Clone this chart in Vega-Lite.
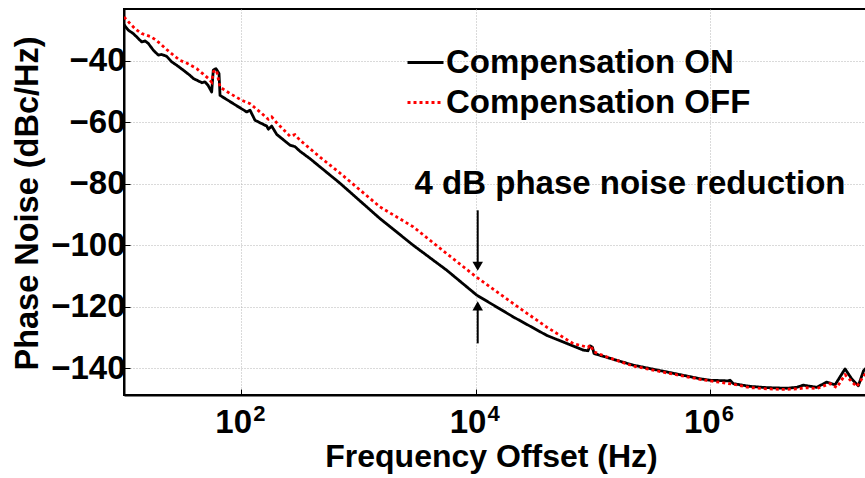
{
  "$schema": "https://vega.github.io/schema/vega-lite/v6.json",
  "width": 742,
  "height": 386,
  "autosize": {"type": "none"},
  "padding": {"left": 124, "top": 9, "right": 0, "bottom": 83},
  "background": "white",
  "config": {
    "view": {"stroke": "black", "strokeWidth": 2},
    "font": "Liberation Sans"
  },
  "datasets": {
    "curves": [
      {"f": 10, "pn": -28.2, "series": "Compensation ON"},
      {"f": 10.88, "pn": -30.0, "series": "Compensation ON"},
      {"f": 12.0, "pn": -31.1, "series": "Compensation ON"},
      {"f": 13.24, "pn": -32.7, "series": "Compensation ON"},
      {"f": 14.16, "pn": -33.8, "series": "Compensation ON"},
      {"f": 15.11, "pn": -33.5, "series": "Compensation ON"},
      {"f": 16.12, "pn": -34.3, "series": "Compensation ON"},
      {"f": 17.79, "pn": -36.5, "series": "Compensation ON"},
      {"f": 19.62, "pn": -38.1, "series": "Compensation ON"},
      {"f": 20.98, "pn": -37.9, "series": "Compensation ON"},
      {"f": 23.14, "pn": -38.5, "series": "Compensation ON"},
      {"f": 25.53, "pn": -40.3, "series": "Compensation ON"},
      {"f": 28.18, "pn": -41.4, "series": "Compensation ON"},
      {"f": 32.07, "pn": -43.0, "series": "Compensation ON"},
      {"f": 36.59, "pn": -44.7, "series": "Compensation ON"},
      {"f": 39.04, "pn": -45.7, "series": "Compensation ON"},
      {"f": 46.3, "pn": -47.1, "series": "Compensation ON"},
      {"f": 49.1, "pn": -46.8, "series": "Compensation ON"},
      {"f": 52.1, "pn": -47.9, "series": "Compensation ON"},
      {"f": 56.0, "pn": -50.1, "series": "Compensation ON"},
      {"f": 57.8, "pn": -43.0, "series": "Compensation ON"},
      {"f": 61.0, "pn": -42.5, "series": "Compensation ON"},
      {"f": 64.7, "pn": -44.1, "series": "Compensation ON"},
      {"f": 66.0, "pn": -51.2, "series": "Compensation ON"},
      {"f": 85.7, "pn": -53.9, "series": "Compensation ON"},
      {"f": 111.5, "pn": -56.6, "series": "Compensation ON"},
      {"f": 119.0, "pn": -56.0, "series": "Compensation ON"},
      {"f": 131.2, "pn": -59.3, "series": "Compensation ON"},
      {"f": 165.2, "pn": -61.2, "series": "Compensation ON"},
      {"f": 170.5, "pn": -62.2, "series": "Compensation ON"},
      {"f": 182.2, "pn": -61.2, "series": "Compensation ON"},
      {"f": 201.0, "pn": -63.9, "series": "Compensation ON"},
      {"f": 261.1, "pn": -67.4, "series": "Compensation ON"},
      {"f": 288.0, "pn": -67.9, "series": "Compensation ON"},
      {"f": 317.8, "pn": -69.4, "series": "Compensation ON"},
      {"f": 386.7, "pn": -71.8, "series": "Compensation ON"},
      {"f": 697.5, "pn": -79.8, "series": "Compensation ON"},
      {"f": 1530, "pn": -91.3, "series": "Compensation ON"},
      {"f": 2945, "pn": -100.0, "series": "Compensation ON"},
      {"f": 5677, "pn": -108.1, "series": "Compensation ON"},
      {"f": 10240, "pn": -116.2, "series": "Compensation ON"},
      {"f": 21010, "pn": -123.3, "series": "Compensation ON"},
      {"f": 40520, "pn": -129.3, "series": "Compensation ON"},
      {"f": 83180, "pn": -134.1, "series": "Compensation ON"},
      {"f": 91220, "pn": -134.3, "series": "Compensation ON"},
      {"f": 94890, "pn": -132.7, "series": "Compensation ON"},
      {"f": 99660, "pn": -133.2, "series": "Compensation ON"},
      {"f": 102600, "pn": -135.2, "series": "Compensation ON"},
      {"f": 115500, "pn": -135.8, "series": "Compensation ON"},
      {"f": 222200, "pn": -139.0, "series": "Compensation ON"},
      {"f": 428300, "pn": -141.2, "series": "Compensation ON"},
      {"f": 824100, "pn": -143.4, "series": "Compensation ON"},
      {"f": 1003000, "pn": -143.9, "series": "Compensation ON"},
      {"f": 1438000, "pn": -144.1, "series": "Compensation ON"},
      {"f": 1486000, "pn": -143.9, "series": "Compensation ON"},
      {"f": 1586000, "pn": -145.0, "series": "Compensation ON"},
      {"f": 2201000, "pn": -145.9, "series": "Compensation ON"},
      {"f": 3058000, "pn": -146.3, "series": "Compensation ON"},
      {"f": 4529000, "pn": -146.5, "series": "Compensation ON"},
      {"f": 5511000, "pn": -146.2, "series": "Compensation ON"},
      {"f": 6277000, "pn": -145.5, "series": "Compensation ON"},
      {"f": 8166000, "pn": -146.2, "series": "Compensation ON"},
      {"f": 9940000, "pn": -144.5, "series": "Compensation ON"},
      {"f": 11700000, "pn": -145.4, "series": "Compensation ON"},
      {"f": 14240000, "pn": -140.2, "series": "Compensation ON"},
      {"f": 16340000, "pn": -143.6, "series": "Compensation ON"},
      {"f": 18500000, "pn": -145.7, "series": "Compensation ON"},
      {"f": 20490000, "pn": -140.8, "series": "Compensation ON"},
      {"f": 21500000, "pn": -140.0, "series": "Compensation ON"},
      {"f": 10, "pn": -25.7, "series": "Compensation OFF"},
      {"f": 11.25, "pn": -27.8, "series": "Compensation OFF"},
      {"f": 12.41, "pn": -29.5, "series": "Compensation OFF"},
      {"f": 14.16, "pn": -31.1, "series": "Compensation OFF"},
      {"f": 16.67, "pn": -32.0, "series": "Compensation OFF"},
      {"f": 18.39, "pn": -33.0, "series": "Compensation OFF"},
      {"f": 20.29, "pn": -34.3, "series": "Compensation OFF"},
      {"f": 23.14, "pn": -36.3, "series": "Compensation OFF"},
      {"f": 26.35, "pn": -38.1, "series": "Compensation OFF"},
      {"f": 30.06, "pn": -39.8, "series": "Compensation OFF"},
      {"f": 34.29, "pn": -40.7, "series": "Compensation OFF"},
      {"f": 41.74, "pn": -42.5, "series": "Compensation OFF"},
      {"f": 47.53, "pn": -44.3, "series": "Compensation OFF"},
      {"f": 52.1, "pn": -45.6, "series": "Compensation OFF"},
      {"f": 56.0, "pn": -46.9, "series": "Compensation OFF"},
      {"f": 58.1, "pn": -43.4, "series": "Compensation OFF"},
      {"f": 61.6, "pn": -43.0, "series": "Compensation OFF"},
      {"f": 66.0, "pn": -48.5, "series": "Compensation OFF"},
      {"f": 80.3, "pn": -50.6, "series": "Compensation OFF"},
      {"f": 101.0, "pn": -52.8, "series": "Compensation OFF"},
      {"f": 119.0, "pn": -53.9, "series": "Compensation OFF"},
      {"f": 144.8, "pn": -56.6, "series": "Compensation OFF"},
      {"f": 170.5, "pn": -59.0, "series": "Compensation OFF"},
      {"f": 182.2, "pn": -58.2, "series": "Compensation OFF"},
      {"f": 201.0, "pn": -60.1, "series": "Compensation OFF"},
      {"f": 261.1, "pn": -64.5, "series": "Compensation OFF"},
      {"f": 288.0, "pn": -64.0, "series": "Compensation OFF"},
      {"f": 317.8, "pn": -65.8, "series": "Compensation OFF"},
      {"f": 470.8, "pn": -71.3, "series": "Compensation OFF"},
      {"f": 697.5, "pn": -76.5, "series": "Compensation OFF"},
      {"f": 1530, "pn": -87.5, "series": "Compensation OFF"},
      {"f": 2945, "pn": -94.0, "series": "Compensation OFF"},
      {"f": 5677, "pn": -102.7, "series": "Compensation OFF"},
      {"f": 10240, "pn": -110.4, "series": "Compensation OFF"},
      {"f": 21010, "pn": -119.0, "series": "Compensation OFF"},
      {"f": 40520, "pn": -126.6, "series": "Compensation OFF"},
      {"f": 68330, "pn": -132.0, "series": "Compensation OFF"},
      {"f": 77960, "pn": -132.5, "series": "Compensation OFF"},
      {"f": 91220, "pn": -133.2, "series": "Compensation OFF"},
      {"f": 95820, "pn": -132.4, "series": "Compensation OFF"},
      {"f": 101600, "pn": -134.6, "series": "Compensation OFF"},
      {"f": 131700, "pn": -136.3, "series": "Compensation OFF"},
      {"f": 222200, "pn": -139.3, "series": "Compensation OFF"},
      {"f": 428300, "pn": -141.5, "series": "Compensation OFF"},
      {"f": 824100, "pn": -143.6, "series": "Compensation OFF"},
      {"f": 1003000, "pn": -144.1, "series": "Compensation OFF"},
      {"f": 1586000, "pn": -145.2, "series": "Compensation OFF"},
      {"f": 2201000, "pn": -146.3, "series": "Compensation OFF"},
      {"f": 3058000, "pn": -146.7, "series": "Compensation OFF"},
      {"f": 4236000, "pn": -146.9, "series": "Compensation OFF"},
      {"f": 5511000, "pn": -146.7, "series": "Compensation OFF"},
      {"f": 6708000, "pn": -146.3, "series": "Compensation OFF"},
      {"f": 8166000, "pn": -146.6, "series": "Compensation OFF"},
      {"f": 10610000, "pn": -145.0, "series": "Compensation OFF"},
      {"f": 12100000, "pn": -146.3, "series": "Compensation OFF"},
      {"f": 14240000, "pn": -142.1, "series": "Compensation OFF"},
      {"f": 17920000, "pn": -146.0, "series": "Compensation OFF"},
      {"f": 20690000, "pn": -142.3, "series": "Compensation OFF"},
      {"f": 21500000, "pn": -141.8, "series": "Compensation OFF"}
    ],
    "arrows": [
      {"f": 10440, "pn": -88.6, "pn2": -106.5, "shape": "triangle-down", "head": -106.8},
      {"f": 10440, "pn": -131.9, "pn2": -120.0, "shape": "triangle-up", "head": -119.7}
    ],
    "notes": [
      {"f": 208300, "pn": -83.2, "label": "4 dB phase noise reduction"}
    ],
    "exponents": [
      {"f": 100, "pn": -148.7, "label": "2"},
      {"f": 10000, "pn": -148.7, "label": "4"},
      {"f": 1000000, "pn": -148.7, "label": "6"}
    ]
  },
  "layer": [
    {
      "data": {"name": "curves"},
      "transform": [{"filter": "datum.series == 'Compensation ON'"}],
      "mark": {"type": "line", "strokeWidth": 2.8, "clip": true, "strokeJoin": "round"},
      "encoding": {
        "x": {
          "field": "f", "type": "quantitative",
          "scale": {"type": "log", "domain": [10, 21500000], "nice": false},
          "axis": {
            "values": [100, 10000, 1000000],
            "labelExpr": "'10'",
            "labelFont": "Liberation Sans", "labelFontWeight": "bold", "labelFontSize": 33, "labelColor": "black",
            "labelBaseline": "alphabetic", "labelPadding": 43, "labelFlush": false, "labelOverlap": false,
            "labelOffset": -8,
            "tickSize": -6, "tickColor": "black", "tickWidth": 1,
            "domainColor": "black", "domainWidth": 2,
            "grid": true, "gridColor": "#b4b4b4", "gridDash": [1, 2], "gridWidth": 1,
            "title": "Frequency Offset (Hz)",
            "titleFont": "Liberation Sans", "titleFontWeight": "bold", "titleFontSize": 32, "titleColor": "black",
            "titleBaseline": "alphabetic", "titleY": 71, "titleX": 367
          }
        },
        "y": {
          "field": "pn", "type": "quantitative",
          "scale": {"domain": [-148.7, -23.1], "nice": false, "zero": false},
          "axis": {
            "values": [-140, -120, -100, -80, -60, -40],
            "labelFont": "Liberation Sans", "labelFontWeight": "bold", "labelFontSize": 33, "labelColor": "black",
            "labelPadding": 5,
            "tickSize": -6, "tickColor": "black", "tickWidth": 1,
            "domainColor": "black", "domainWidth": 2,
            "grid": true, "gridColor": "#b4b4b4", "gridDash": [1, 2], "gridWidth": 1,
            "title": "Phase Noise (dBc/Hz)",
            "titleFont": "Liberation Sans", "titleFontWeight": "bold", "titleFontSize": 32.5, "titleColor": "black",
            "titleAngle": -90, "titleAlign": "center", "titleBaseline": "alphabetic",
            "titleX": -87, "titleY": 194
          }
        },
        "color": {
          "field": "series", "type": "nominal",
          "scale": {"domain": ["Compensation ON", "Compensation OFF"], "range": ["#000000", "#ff0000"]},
          "legend": {
            "orient": "none", "legendX": 282, "legendY": 34, "title": null,
            "labelFont": "Liberation Sans", "labelFontWeight": "bold", "labelFontSize": 33, "labelColor": "black",
            "symbolType": "stroke", "symbolSize": 1296, "symbolStrokeWidth": 2.8,
            "labelOffset": 1, "rowPadding": 3, "padding": 0, "labelLimit": 0
          }
        },
        "strokeDash": {
          "field": "series", "type": "nominal",
          "scale": {"domain": ["Compensation ON", "Compensation OFF"], "range": [[1, 0], [3, 3]]},
          "legend": {
            "orient": "none", "legendX": 282, "legendY": 34, "title": null,
            "labelFont": "Liberation Sans", "labelFontWeight": "bold", "labelFontSize": 33, "labelColor": "black",
            "symbolType": "stroke", "symbolSize": 1296, "symbolStrokeWidth": 2.8,
            "labelOffset": 1, "rowPadding": 3, "padding": 0, "labelLimit": 0
          }
        }
      }
    },
    {
      "data": {"name": "curves"},
      "transform": [{"filter": "datum.series == 'Compensation OFF'"}],
      "mark": {"type": "line", "strokeWidth": 2.8, "clip": true},
      "encoding": {
        "x": {"field": "f", "type": "quantitative"},
        "y": {"field": "pn", "type": "quantitative"},
        "color": {"field": "series", "type": "nominal"},
        "strokeDash": {"field": "series", "type": "nominal"}
      }
    },
    {
      "data": {"name": "arrows"},
      "mark": {"type": "rule", "color": "black", "strokeWidth": 2},
      "encoding": {
        "x": {"field": "f", "type": "quantitative"},
        "y": {"field": "pn", "type": "quantitative"},
        "y2": {"field": "pn2"}
      }
    },
    {
      "data": {"name": "arrows"},
      "mark": {"type": "point", "filled": true, "color": "black", "opacity": 1, "size": 110},
      "encoding": {
        "x": {"field": "f", "type": "quantitative"},
        "y": {"field": "head", "type": "quantitative"},
        "shape": {"field": "shape", "type": "nominal", "scale": null, "legend": null}
      }
    },
    {
      "data": {"name": "notes"},
      "mark": {"type": "text", "font": "Liberation Sans", "fontWeight": "bold", "fontSize": 33, "color": "black", "align": "center", "baseline": "alphabetic"},
      "encoding": {
        "x": {"field": "f", "type": "quantitative"},
        "y": {"field": "pn", "type": "quantitative"},
        "text": {"field": "label"}
      }
    },
    {
      "data": {"name": "exponents"},
      "mark": {"type": "text", "font": "Liberation Sans", "fontWeight": "bold", "fontSize": 22, "color": "black", "align": "left", "baseline": "alphabetic", "dx": 12, "dy": 26, "clip": false},
      "encoding": {
        "x": {"field": "f", "type": "quantitative"},
        "y": {"field": "pn", "type": "quantitative"},
        "text": {"field": "label"}
      }
    }
  ]
}
